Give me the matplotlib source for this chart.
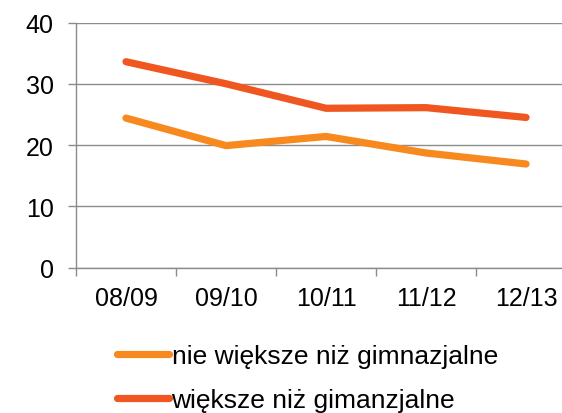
import matplotlib
matplotlib.use("Agg")
import matplotlib.pyplot as plt
from matplotlib.lines import Line2D

plt.rcParams['font.family'] = ['Liberation Sans', 'DejaVu Sans']

# data
years = ["08/09", "09/10", "10/11", "11/12", "12/13"]
nie_wieksze = [24.4, 19.9, 21.4, 18.7, 16.9]
wieksze = [33.6, 30.0, 26.0, 26.1, 24.5]
labels = ["nie większe niż gimnazjalne", "większe niż gimanzjalne"]
colors = ["#F7891E", "#F0561F"]

fig = plt.figure(figsize=(5.62, 4.14), dpi=100)
ax = fig.add_axes([0.1352, 0.3514, 0.8898, 0.5918])

x = list(range(len(years)))
ax.plot(x, nie_wieksze, color=colors[0], lw=5.2, solid_capstyle='round', solid_joinstyle='round', zorder=3)
ax.plot(x, wieksze, color=colors[1], lw=5.2, solid_capstyle='round', solid_joinstyle='round', zorder=3)

ax.set_xlim(-0.5, len(years) - 0.5)
ax.set_ylim(0, 40)
ax.set_yticks([0, 10, 20, 30, 40])
ax.set_xticks(x)
ax.set_xticklabels(years)
ax.set_xticks([i - 0.5 for i in range(len(years) + 1)], minor=True)

ax.grid(axis='y', color='#8c8c8c', lw=1.0, zorder=1)
ax.set_axisbelow(True)
for s in ['top', 'right']:
    ax.spines[s].set_visible(False)
for s in ['left', 'bottom']:
    ax.spines[s].set_color('#8c8c8c')
    ax.spines[s].set_linewidth(1.0)

ax.tick_params(axis='y', length=6, width=1.0, color='#8c8c8c', labelsize=18, pad=10)
ax.tick_params(axis='x', which='major', length=0, labelsize=18, pad=13)
ax.tick_params(axis='x', which='minor', length=6, width=1.0, color='#8c8c8c')

handles = [Line2D([0], [0], color=c, lw=5.2, solid_capstyle='round') for c in colors]
fig.legend(handles, labels, loc='upper left', bbox_to_anchor=(0.2075, 0.167),
           frameon=False, fontsize=19, handlelength=2.0, handletextpad=0.08,
           labelspacing=0.78, borderpad=0, borderaxespad=0)

fig.savefig("out.png", dpi=100)
